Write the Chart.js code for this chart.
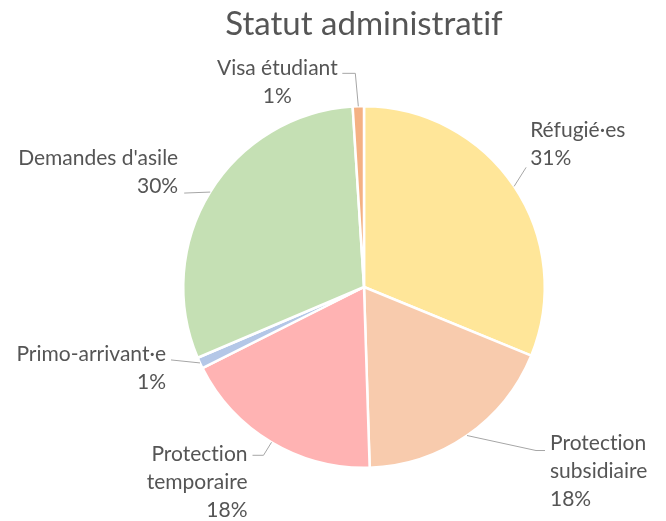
<!DOCTYPE html>
<html>
<head>
<meta charset="utf-8">
<script src="https://cdn.jsdelivr.net/npm/chart.js@4"></script>
<style>
  html, body { margin: 0; padding: 0; background: #fff; }
  canvas { display: block; }
</style>
</head>
<body>
<canvas id="pie" width="666" height="521"></canvas>
<script>
// data (shares in %)
const categories = ['Réfugié·es', 'Protection subsidiaire', 'Protection temporaire', 'Primo-arrivant·e', "Demandes d'asile", 'Visa étudiant'];
const shares = [31.2, 18.3, 18.1, 1.0, 30.4, 1.0];
const sliceColors = ['#FFE699', '#F8CBAD', '#FFB3B3', '#B4C7E7', '#C5E0B4', '#F4B183'];
const chartTitle = 'Statut administratif';

// where each label sits, relative to the point where its leader leaves the slice
const labelLayout = [
  { leader: [[12, -19]], dx: 16, dy: -56, align: 'left', wrap: false },
  { leader: [[69, 15], [78, 15]], dx: 83, dy: 8, align: 'left', wrap: true },
  { leader: [[-8, 13], [-19, 13]], dx: -24, dy: 12, align: 'right', wrap: true },
  { leader: [[-29, -3]], dx: -34, dy: -9, align: 'right', wrap: false },
  { leader: [[-26, 1]], dx: -32, dy: -34, align: 'right', wrap: false },
  { leader: [[-3, -33], [-16, -33]], dx: -81, dy: -38, align: 'center', wrap: false },
];

const FONT = 'Lato';
const TEXT = '#555555';

const outsideLabels = {
  id: 'outsideLabels',
  afterDatasetsDraw(chart) {
    const ctx = chart.ctx;
    const meta = chart.getDatasetMeta(0);
    const data = chart.data.datasets[0].data;
    const total = data.reduce((a, b) => a + b, 0);
    ctx.save();
    ctx.textRendering = 'optimizeSpeed'; // no "ti" ligature
    meta.data.forEach((arc, i) => {
      const p = arc.getProps(['x', 'y', 'startAngle', 'endAngle', 'outerRadius'], true);
      const mid = (p.startAngle + p.endAngle) / 2;
      const px = p.x + Math.cos(mid) * p.outerRadius;
      const py = p.y + Math.sin(mid) * p.outerRadius;
      const lay = labelLayout[i];

      ctx.strokeStyle = '#A6A6A6';
      ctx.lineWidth = 1;
      ctx.beginPath();
      ctx.moveTo(px, py);
      lay.leader.forEach(pt => ctx.lineTo(px + pt[0], py + pt[1]));
      ctx.stroke();

      const name = chart.data.labels[i];
      let lines = lay.wrap ? [name.slice(0, name.indexOf(' ')), name.slice(name.indexOf(' ') + 1)] : [name];
      lines.push(Math.round(data[i] / total * 100) + '%');

      ctx.fillStyle = TEXT;
      ctx.font = '21px ' + FONT;
      ctx.textAlign = lay.align;
      ctx.textBaseline = 'middle';
      lines.forEach((t, k) => ctx.fillText(t, px + lay.dx, py + lay.dy + k * 28));
    });

    // title
    ctx.fillStyle = TEXT;
    ctx.font = '33px ' + FONT;
    ctx.textAlign = 'center';
    ctx.textBaseline = 'alphabetic';
    ctx.fillText(chartTitle, 364, 35);
    ctx.restore();
  }
};

new Chart('pie', {
  type: 'pie',
  data: {
    labels: categories,
    datasets: [{
      data: shares,
      backgroundColor: sliceColors,
      borderColor: '#FFFFFF',
      borderWidth: 2.5,
    }],
  },
  options: {
    responsive: false,
    animation: false,
    layout: { padding: { top: 105, bottom: 52, left: 182, right: 120 } },
    plugins: {
      legend: { display: false },
      tooltip: { enabled: false },
    },
  },
  plugins: [outsideLabels],
});
</script>
</body>
</html>
